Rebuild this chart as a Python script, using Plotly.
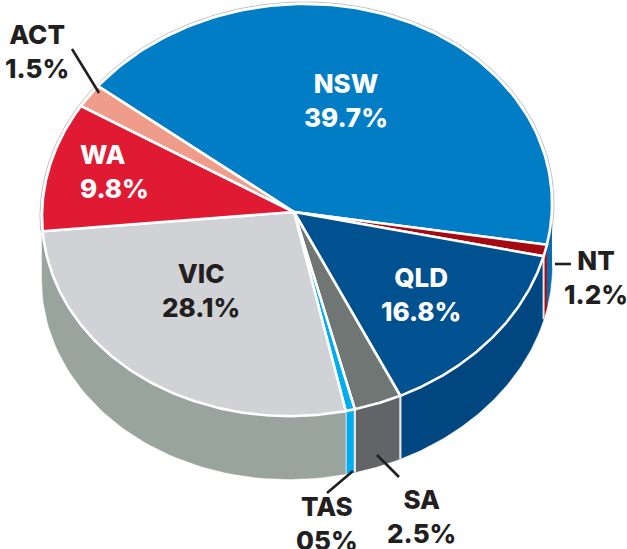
import numpy as np
import plotly.graph_objects as go

states = ["NSW", "NT", "QLD", "SA", "TAS", "VIC", "WA", "ACT"]
shares = [39.7, 1.2, 16.8, 2.5, 0.5, 28.1, 9.8, 1.5]
share_labels = ["39.7%", "1.2%", "16.8%", "2.5%", "05%", "28.1%", "9.8%", "1.5%"]
top_colors = ["#007DC5", "#A50A10", "#00518F", "#6F7673", "#00AEEF", "#D1D2D6", "#E01A33", "#F09C8B"]
side_colors = ["#0A6CB0", "#A50A10", "#004680", "#636467", "#00AEEF", "#9AA49F", None, None]
# the drawing's hand-made perspective: degrees added to each slice boundary
rim_offset = [-141.3, -131.3, -132.35, -141.4, -139.6, -139.3, -143.5, -142.5, -141.3]

W, H = 627, 549
CX, CY, RX, RY = 297, 210, 255, 206
SHEAR = 0.025
APEX = (294, 212)
DEPTH = 63
INK = "#231F20"
FONT = "Inter"

cum = np.concatenate([[0], np.cumsum(shares)])
cum = cum / cum[-1] * 360
bounds = cum + np.array(rim_offset)


def rim(t_deg, grow=0.0):
    t = np.radians(t_deg)
    dx = (RX + grow) * np.cos(t)
    return CX + dx, CY + (RY + grow) * np.sin(t) - SHEAR * dx


fig = go.Figure()


def poly(x, y, fill, lw=0.0):
    fig.add_trace(go.Scatter(x=x, y=y, mode="lines", fill="toself", fillcolor=fill,
                             line=dict(color="#FFFFFF" if lw else fill, width=lw if lw else 0.5),
                             hoverinfo="skip", showlegend=False))


def seg(x, y, color, width):
    fig.add_trace(go.Scatter(x=x, y=y, mode="lines", line=dict(color=color, width=width),
                             hoverinfo="skip", showlegend=False))


# faint outline round the far side of the top
gx, gy = rim(np.linspace(176, 372, 240), grow=2)
seg(gx, gy, "#B8BABC", 0.9)

# side wall
for i, name in enumerate(states):
    if side_colors[i] is None:
        continue
    a, b = bounds[i], bounds[i + 1]
    if name == "VIC":
        b = 180
    a, b = max(a, 0), min(b, 180)
    if b <= a:
        continue
    ts = np.linspace(a, b, 60)
    x, y = rim(ts)
    poly(np.concatenate([x, x[::-1]]), np.concatenate([y, y[::-1] + DEPTH]), side_colors[i])
    if name in ("QLD", "SA", "TAS"):
        seg([x[-1], x[-1]], [y[-1], y[-1] + DEPTH], "#E8E8E8", 2)
        seg([x[0], x[0]], [y[0], y[0] + DEPTH], "#E8E8E8", 2)

# top wedges
for i, name in enumerate(states):
    x, y = rim(np.linspace(bounds[i], bounds[i + 1], 120))
    poly(np.concatenate([[APEX[0]], x, [APEX[0]]]), np.concatenate([[APEX[1]], y, [APEX[1]]]),
         top_colors[i], 2.6)

# leader lines
for (x0, y0, x1, y1) in [(72, 49, 99, 93), (377, 455, 399, 477), (353, 471, 327, 493), (555, 264, 571, 264)]:
    seg([x0, x1], [y0, y1], INK, 2.6)

# labels
positions = {"NSW": (346, 100, "#FFFFFF", "center"), "NT": (596, 277, INK, "center"),
             "QLD": (421, 294, "#FFFFFF", "center"), "SA": (421, 516, INK, "center"),
             "TAS": (327, 523, INK, "center"), "VIC": (201, 290, INK, "center"),
             "WA": (114, 171, "#FFFFFF", "left"), "ACT": (37, 51, INK, "center")}
for i, name in enumerate(states):
    px, py, col, al = positions[name]
    fig.add_annotation(x=px, y=py, text=f"{name}<br>{share_labels[i]}", showarrow=False,
                       font=dict(family=FONT, size=26, color=col, weight=800), align=al)

fig.update_xaxes(range=[0, W], visible=False, fixedrange=True)
fig.update_yaxes(range=[H, 0], visible=False, fixedrange=True)
fig.update_layout(width=W, height=H, margin=dict(l=0, r=0, t=0, b=0), plot_bgcolor="#FFFFFF",
                  paper_bgcolor="#FFFFFF", showlegend=False)
fig.write_html("out.html", config={"displayModeBar": False},
               post_script="document.body.style.margin='0';document.documentElement.style.overflow='hidden';")
